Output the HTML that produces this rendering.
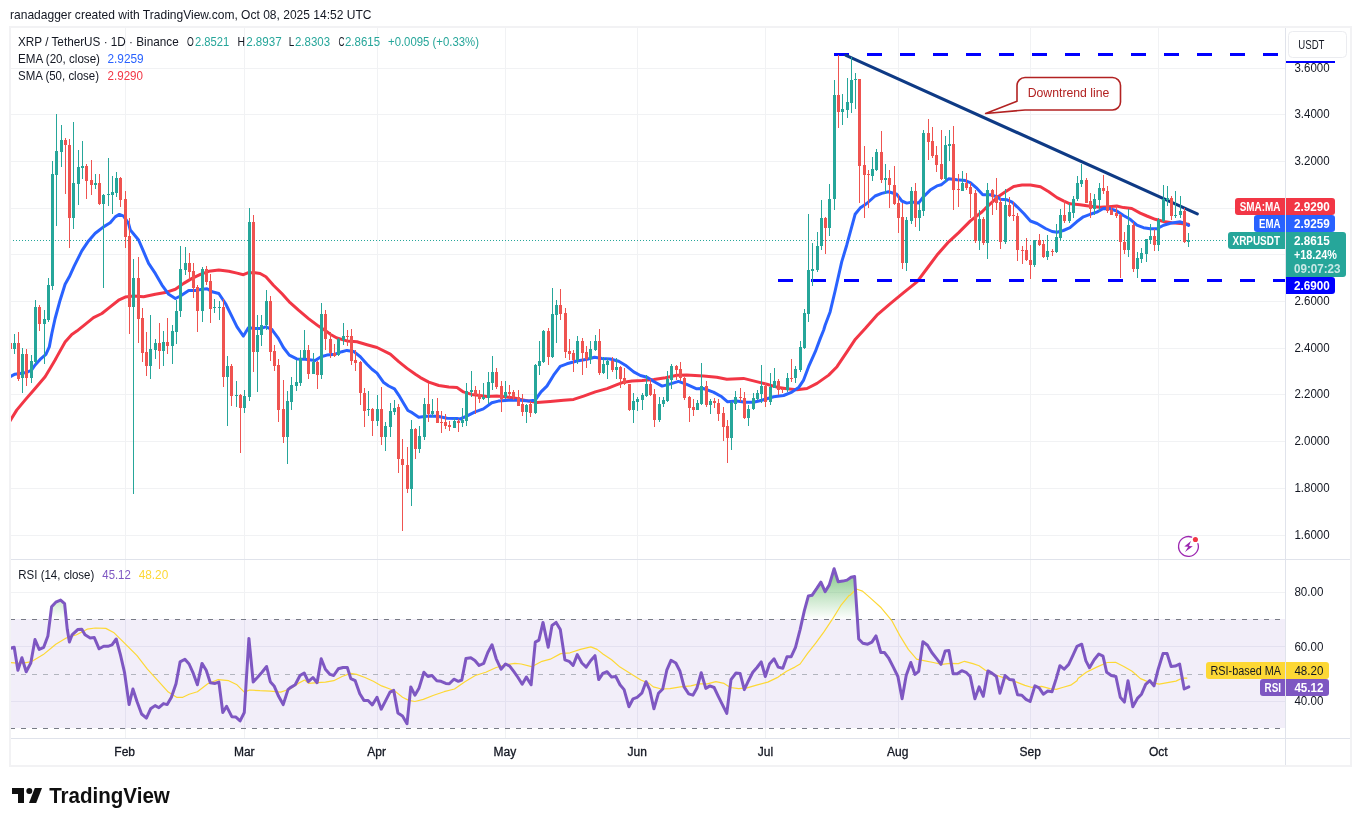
<!DOCTYPE html><html><head><meta charset="utf-8"><title>XRPUSDT</title><style>html,body{margin:0;padding:0;background:#fff;width:1361px;height:826px;overflow:hidden}</style></head><body><svg width="1361" height="826" viewBox="0 0 1361 826" style="position:absolute;left:0;top:0;will-change:transform;font-family:'Liberation Sans',sans-serif">
<rect width="1361" height="826" fill="#fff"/>
<g shape-rendering="crispEdges" stroke="#f1f2f4" stroke-width="1">
<line x1="125.5" y1="28" x2="125.5" y2="738"/>
<line x1="244.5" y1="28" x2="244.5" y2="738"/>
<line x1="377.5" y1="28" x2="377.5" y2="738"/>
<line x1="505.5" y1="28" x2="505.5" y2="738"/>
<line x1="637.5" y1="28" x2="637.5" y2="738"/>
<line x1="765.5" y1="28" x2="765.5" y2="738"/>
<line x1="898.5" y1="28" x2="898.5" y2="738"/>
<line x1="1030.5" y1="28" x2="1030.5" y2="738"/>
<line x1="1158.5" y1="28" x2="1158.5" y2="738"/>
<line x1="11" y1="68.5" x2="1285" y2="68.5"/>
<line x1="11" y1="114.5" x2="1285" y2="114.5"/>
<line x1="11" y1="161.5" x2="1285" y2="161.5"/>
<line x1="11" y1="208.5" x2="1285" y2="208.5"/>
<line x1="11" y1="254.5" x2="1285" y2="254.5"/>
<line x1="11" y1="301.5" x2="1285" y2="301.5"/>
<line x1="11" y1="348.5" x2="1285" y2="348.5"/>
<line x1="11" y1="394.5" x2="1285" y2="394.5"/>
<line x1="11" y1="441.5" x2="1285" y2="441.5"/>
<line x1="11" y1="488.5" x2="1285" y2="488.5"/>
<line x1="11" y1="535.5" x2="1285" y2="535.5"/>
<line x1="11" y1="592.5" x2="1285" y2="592.5"/>
<line x1="11" y1="646.5" x2="1285" y2="646.5"/>
<line x1="11" y1="701.5" x2="1285" y2="701.5"/>
</g>
<rect x="11" y="619.0" width="1274" height="109.0" fill="#7e57c2" fill-opacity="0.1"/>
<g shape-rendering="crispEdges" stroke="#e4e1f0" stroke-width="1">
<line x1="11" y1="646.5" x2="1285" y2="646.5"/>
<line x1="11" y1="701.5" x2="1285" y2="701.5"/>
<line x1="125.5" y1="619.5" x2="125.5" y2="728.5"/>
<line x1="244.5" y1="619.5" x2="244.5" y2="728.5"/>
<line x1="377.5" y1="619.5" x2="377.5" y2="728.5"/>
<line x1="505.5" y1="619.5" x2="505.5" y2="728.5"/>
<line x1="637.5" y1="619.5" x2="637.5" y2="728.5"/>
<line x1="765.5" y1="619.5" x2="765.5" y2="728.5"/>
<line x1="898.5" y1="619.5" x2="898.5" y2="728.5"/>
<line x1="1030.5" y1="619.5" x2="1030.5" y2="728.5"/>
<line x1="1158.5" y1="619.5" x2="1158.5" y2="728.5"/>
</g>
<g shape-rendering="crispEdges" stroke-width="1" fill="none">
<line x1="10" y1="619.5" x2="1284" y2="619.5" stroke="#787b86" stroke-dasharray="5 6"/>
<line x1="10" y1="728.5" x2="1284" y2="728.5" stroke="#787b86" stroke-dasharray="5 6"/>
<line x1="10" y1="674.5" x2="1284" y2="674.5" stroke="#b2b5be" stroke-dasharray="5 6"/>
</g>
<defs><linearGradient id="gg" x1="0" y1="0" x2="0" y2="1" gradientUnits="userSpaceOnUse" ><stop offset="0" stop-color="#4caf50" stop-opacity="0"/></linearGradient>
<linearGradient id="ob" gradientUnits="userSpaceOnUse" x1="0" y1="565" x2="0" y2="619.5"><stop offset="0" stop-color="#4caf50" stop-opacity="0.75"/><stop offset="1" stop-color="#4caf50" stop-opacity="0"/></linearGradient>
<clipPath id="mainclip"><rect x="11" y="28" width="1274" height="531"/></clipPath><clipPath id="rsiclip"><rect x="11" y="560" width="1274" height="178"/></clipPath>
<clipPath id="above70"><rect x="0" y="560" width="1285" height="59.5"/></clipPath></defs>
<polygon points="10.0,619.5 10.0,648.4 14.2,647.3 17.9,670.2 21.9,657.8 26.2,671.7 30.8,663.0 35.0,639.6 39.2,649.4 43.7,647.3 47.9,635.9 51.6,606.7 55.8,602.2 60.6,600.1 64.6,603.6 67.3,629.6 69.4,642.1 72.1,634.8 77.7,629.6 81.8,629.2 85.0,634.8 90.2,638.0 94.3,637.6 99.1,648.8 103.7,646.3 107.9,646.3 112.0,644.8 116.2,639.0 120.4,654.6 124.5,672.3 129.1,704.6 132.9,689.0 137.0,701.5 141.6,714.0 146.4,718.1 150.6,708.8 155.1,705.6 158.9,707.7 163.5,703.6 167.2,704.6 171.4,697.3 176.0,683.8 180.1,661.9 184.9,659.2 189.1,664.0 193.3,673.4 197.4,684.8 202.0,663.4 206.2,670.2 210.3,682.7 215.1,683.4 218.9,682.1 222.8,712.5 226.6,706.3 231.8,716.7 235.9,717.1 240.1,720.9 244.3,712.5 248.9,638.4 253.2,682.1 257.8,677.1 262.0,672.3 266.6,666.5 270.3,681.7 274.1,685.9 278.6,696.3 283.2,704.6 288.0,689.6 290.0,687.9 295.2,684.8 300.0,675.5 304.2,673.0 308.3,681.7 312.9,677.5 317.1,682.7 321.2,658.8 325.4,669.2 330.0,674.4 333.7,675.5 338.3,668.8 343.1,667.5 347.3,667.5 350.8,678.6 355.2,680.7 359.8,693.8 363.9,700.4 368.1,700.4 372.3,705.0 377.0,697.3 381.2,709.2 385.8,700.4 390.0,692.1 393.7,690.4 397.9,712.9 402.5,716.1 407.0,723.8 410.8,686.9 414.9,695.2 419.1,687.9 423.9,672.3 427.9,676.5 432.0,675.5 436.8,680.7 441.0,681.3 445.8,683.4 449.3,683.8 453.9,679.2 458.3,681.3 461.8,680.0 466.0,658.4 470.8,657.8 474.9,660.5 479.1,665.5 483.7,663.4 487.8,652.5 492.0,644.8 496.2,658.8 501.0,669.2 505.5,664.0 509.7,666.1 513.9,671.7 518.0,677.5 522.2,684.2 526.4,677.1 531.1,684.8 535.3,642.1 538.9,640.1 543.0,622.4 548.2,647.3 552.0,625.5 556.1,622.4 560.3,629.6 564.9,659.8 569.1,661.3 573.1,665.5 577.3,654.6 581.9,663.0 586.2,667.1 590.8,660.5 595.0,655.7 598.7,679.6 602.9,673.4 607.1,671.7 611.6,677.1 615.8,676.5 620.0,684.8 624.1,689.6 628.9,706.7 633.1,698.8 637.1,697.3 641.8,693.2 646.0,681.7 649.8,690.0 653.9,708.8 658.5,693.2 662.7,689.0 666.8,670.2 671.0,660.3 675.8,663.0 680.0,671.3 684.1,686.9 688.7,693.8 692.9,695.2 697.0,687.9 701.2,672.7 705.8,688.4 709.9,685.9 714.1,687.5 718.3,696.3 722.4,704.6 726.8,713.4 731.0,679.6 736.0,673.0 740.1,673.4 744.3,689.6 748.5,680.7 752.8,672.3 757.0,667.5 761.2,661.9 765.3,676.5 769.5,664.0 774.1,658.8 778.2,667.1 782.8,668.2 787.0,656.7 791.2,656.7 795.5,647.3 800.1,629.6 804.3,610.9 808.4,595.9 812.0,595.3 816.8,588.4 820.9,582.2 825.1,591.7 829.3,584.9 834.1,568.8 838.2,581.7 842.8,581.1 847.0,580.1 851.1,577.2 854.6,576.5 858.7,639.0 862.9,643.2 867.7,644.2 871.9,642.1 876.0,635.9 880.8,652.5 884.4,652.5 888.5,657.8 893.3,667.1 897.9,676.5 902.1,698.8 906.2,675.5 910.8,662.5 915.0,674.4 918.7,671.3 922.9,641.7 927.5,645.3 931.8,652.5 936.4,658.4 941.0,664.4 945.2,650.9 948.9,650.5 953.1,673.8 957.2,673.8 961.8,670.7 966.0,672.3 970.2,676.5 974.9,698.8 979.1,686.9 983.3,696.3 987.9,670.9 992.2,673.4 996.4,676.5 999.9,693.2 1005.1,675.5 1009.7,679.6 1013.5,680.0 1017.6,694.8 1021.8,695.2 1026.0,699.4 1030.1,701.5 1034.9,685.9 1039.1,687.9 1043.3,694.2 1047.8,691.1 1052.0,691.7 1056.2,678.6 1059.9,665.7 1064.1,669.2 1068.7,664.4 1072.8,655.7 1077.0,646.3 1081.7,644.2 1085.9,660.9 1089.5,667.7 1094.2,659.8 1098.8,654.0 1103.0,656.1 1106.7,672.3 1111.3,675.5 1115.9,676.5 1120.3,697.3 1124.4,702.1 1128.0,680.7 1132.8,706.7 1137.4,698.4 1141.5,694.2 1145.7,684.4 1149.8,680.7 1154.0,685.9 1158.2,669.2 1163.0,653.6 1167.1,653.6 1171.1,666.5 1175.3,666.1 1179.6,664.0 1184.2,689.0 1188.8,686.9 1188.8,619.5" fill="url(#ob)" clip-path="url(#above70)"/>
<line x1="13" y1="240.5" x2="1226" y2="240.5" stroke="#26a69a" stroke-width="1" stroke-dasharray="1 2" shape-rendering="crispEdges"/>
<polyline clip-path="url(#mainclip)" points="10.0,421.0 16.7,410.1 25.0,400.1 35.1,388.4 45.1,376.7 50.1,368.4 55.1,360.0 56.8,356.9 65.1,341.9 71.8,334.4 76.8,331.1 85.2,324.4 93.5,317.7 101.9,313.5 110.2,306.8 118.6,300.2 125.2,297.1 133.6,296.0 143.6,296.8 155.3,294.3 165.3,292.6 175.4,289.3 183.7,283.4 192.1,278.4 200.4,274.3 208.8,271.3 218.8,270.1 228.8,271.3 237.0,273.1 243.4,274.7 248.4,272.7 255.1,272.7 260.1,273.5 265.9,276.8 273.4,285.2 281.8,293.5 290.1,302.7 298.5,310.2 308.5,318.6 318.5,326.1 328.5,332.8 330.2,334.2 336.9,338.0 346.9,340.9 356.9,341.7 367.0,344.7 377.0,347.5 390.3,354.2 398.7,361.7 407.1,368.4 415.4,374.3 420.4,377.6 428.8,382.1 438.8,385.5 448.8,387.1 457.0,387.6 463.4,391.9 471.7,394.4 480.1,395.6 486.7,396.6 496.8,396.1 506.8,396.9 516.8,398.6 526.8,400.6 536.9,402.4 550.2,401.4 563.6,400.2 573.6,399.4 583.6,396.1 595.3,391.9 607.0,388.6 617.0,384.7 623.7,382.2 632.1,381.0 642.1,380.5 653.8,379.4 665.5,377.7 677.0,375.2 686.7,375.1 703.4,375.9 716.8,377.3 726.8,379.3 743.5,378.4 753.5,380.9 766.9,384.3 778.6,387.6 786.9,388.8 796.9,389.8 807.0,388.5 817.0,383.4 828.7,375.1 837.0,366.7 847.1,351.7 855.4,339.2 865.2,328.6 876.9,315.2 890.3,303.6 903.6,292.7 917.0,281.8 927.0,268.5 937.0,255.1 948.7,241.8 958.7,232.6 970.4,220.9 982.1,211.7 987.0,206.8 997.0,197.6 1005.4,191.8 1013.7,186.4 1022.1,185.1 1030.4,185.1 1040.5,186.8 1048.8,191.8 1057.0,197.6 1063.4,200.9 1070.0,203.8 1080.1,204.8 1090.1,206.3 1100.1,207.3 1108.5,206.8 1116.8,206.0 1123.5,207.6 1131.8,208.5 1140.2,213.1 1146.9,216.0 1155.2,219.3 1163.6,221.5 1171.9,222.7 1180.3,223.5 1188.6,224.3" fill="none" stroke="#f23645" stroke-width="3" stroke-linejoin="round" stroke-linecap="round"/>
<polyline clip-path="url(#mainclip)" points="10.0,376.7 15.0,374.2 20.0,373.4 26.7,372.5 31.7,370.0 35.1,365.0 40.1,359.4 45.9,354.4 49.3,346.9 51.8,333.6 55.1,318.5 60.1,300.2 65.1,284.3 69.3,276.8 74.3,265.9 81.8,250.9 88.5,240.9 95.2,233.3 96.9,232.0 103.5,226.9 110.2,222.8 115.2,216.9 119.4,214.4 123.6,216.1 128.6,223.6 130.3,230.0 138.6,240.0 143.6,251.7 148.6,263.4 155.3,273.4 162.0,285.1 168.7,294.3 175.4,298.5 180.4,296.0 188.7,290.5 195.4,290.5 202.1,289.3 207.1,288.8 212.1,291.8 218.8,293.5 225.5,303.5 232.1,316.9 237.0,326.9 243.4,336.1 248.4,327.8 255.1,328.6 260.1,328.6 265.9,326.9 271.8,329.4 273.4,331.7 278.4,338.4 283.4,347.5 289.3,355.1 296.8,358.9 305.2,359.2 315.2,360.4 321.0,356.7 326.9,355.1 335.2,354.2 341.9,351.7 346.9,350.4 353.6,351.4 360.3,356.7 367.0,364.2 372.0,369.3 377.0,373.1 383.7,382.6 388.7,386.0 394.5,388.8 398.7,395.1 403.7,403.5 407.9,410.5 412.1,412.7 418.7,417.2 424.6,416.4 430.4,416.0 438.8,416.5 447.1,418.2 457.0,418.5 460.0,419.0 466.7,416.1 475.1,411.9 483.4,408.9 491.8,402.8 498.4,401.1 508.5,400.2 520.2,400.2 528.5,401.1 535.2,400.2 541.0,391.9 546.9,386.1 553.6,375.2 560.2,366.3 566.9,363.8 576.9,361.0 587.0,359.3 594.5,357.3 602.0,358.5 610.3,359.0 618.7,361.3 625.4,365.2 633.7,371.9 640.4,375.5 647.1,377.2 653.8,381.5 662.1,386.1 668.8,384.4 677.0,381.9 678.4,381.4 686.7,384.3 696.7,388.8 703.4,388.5 713.4,392.1 721.8,396.8 727.6,401.8 736.8,401.0 745.2,402.2 753.5,402.2 761.9,400.2 773.6,396.8 783.6,395.5 791.9,392.1 798.6,387.6 803.6,380.1 808.6,366.7 815.3,351.7 820.3,338.4 823.7,330.0 825.1,325.3 830.1,311.9 835.1,291.0 841.7,261.9 846.7,245.2 851.7,226.9 855.1,214.3 860.1,208.1 866.7,203.5 875.1,196.0 881.8,193.4 888.5,191.8 896.8,194.3 901.8,201.0 906.8,203.1 911.8,202.1 918.5,203.1 923.5,196.8 930.2,190.1 936.9,185.9 941.1,184.8 948.6,178.8 956.9,179.8 965.3,180.6 970.3,182.6 977.0,188.4 982.8,194.8 990.3,194.8 997.0,196.8 1000.4,199.3 1007.1,199.8 1012.1,202.1 1017.1,206.8 1023.8,213.5 1030.4,221.0 1037.1,223.5 1045.5,228.5 1052.1,231.5 1057.0,232.2 1063.4,230.5 1070.0,227.7 1076.7,221.8 1083.4,216.8 1090.1,214.3 1096.8,212.1 1103.4,208.5 1110.1,208.8 1116.8,211.0 1123.5,215.5 1130.2,219.3 1136.9,225.2 1143.5,227.7 1150.2,228.8 1156.9,228.8 1163.6,225.2 1170.3,223.2 1176.9,222.2 1180.3,221.8 1185.3,223.5 1188.6,225.5" fill="none" stroke="#2962ff" stroke-width="3" stroke-linejoin="round" stroke-linecap="round"/>
<g stroke="#0000ff" stroke-width="3" shape-rendering="crispEdges">
<line x1="834" y1="54.5" x2="1279" y2="54.5" stroke-dasharray="15 18"/>
<line x1="778" y1="280.5" x2="1285" y2="280.5" stroke-dasharray="15 18"/>
</g>
<line x1="846" y1="55.4" x2="1197.3" y2="213.8" stroke="#0e3a85" stroke-width="3.1" stroke-linecap="round"/>
<g shape-rendering="crispEdges">
<rect x="9" y="340" width="1" height="12" fill="#ef5350"/>
<rect x="11" y="343" width="1" height="6" fill="#ef5350"/>
<rect x="14" y="334" width="1" height="20" fill="#26a69a"/>
<rect x="13" y="343" width="3" height="6" fill="#26a69a"/>
<rect x="18" y="332" width="1" height="49" fill="#ef5350"/>
<rect x="17" y="343" width="3" height="36" fill="#ef5350"/>
<rect x="22" y="348" width="1" height="45" fill="#26a69a"/>
<rect x="21" y="354" width="3" height="24" fill="#26a69a"/>
<rect x="26" y="349" width="1" height="37" fill="#ef5350"/>
<rect x="25" y="354" width="3" height="24" fill="#ef5350"/>
<rect x="31" y="355" width="1" height="28" fill="#26a69a"/>
<rect x="30" y="361" width="3" height="17" fill="#26a69a"/>
<rect x="35" y="300" width="1" height="64" fill="#26a69a"/>
<rect x="34" y="307" width="3" height="55" fill="#26a69a"/>
<rect x="39" y="305" width="1" height="26" fill="#ef5350"/>
<rect x="38" y="307" width="3" height="17" fill="#ef5350"/>
<rect x="44" y="310" width="1" height="54" fill="#26a69a"/>
<rect x="43" y="319" width="3" height="5" fill="#26a69a"/>
<rect x="48" y="278" width="1" height="44" fill="#26a69a"/>
<rect x="47" y="285" width="3" height="35" fill="#26a69a"/>
<rect x="52" y="161" width="1" height="129" fill="#26a69a"/>
<rect x="51" y="174" width="3" height="112" fill="#26a69a"/>
<rect x="56" y="114" width="1" height="112" fill="#26a69a"/>
<rect x="55" y="151" width="3" height="24" fill="#26a69a"/>
<rect x="61" y="125" width="1" height="42" fill="#26a69a"/>
<rect x="60" y="140" width="3" height="12" fill="#26a69a"/>
<rect x="65" y="138" width="1" height="56" fill="#ef5350"/>
<rect x="64" y="140" width="3" height="5" fill="#ef5350"/>
<rect x="69" y="139" width="1" height="109" fill="#ef5350"/>
<rect x="68" y="145" width="3" height="73" fill="#ef5350"/>
<rect x="73" y="122" width="1" height="107" fill="#26a69a"/>
<rect x="72" y="183" width="3" height="35" fill="#26a69a"/>
<rect x="78" y="150" width="1" height="55" fill="#26a69a"/>
<rect x="77" y="167" width="3" height="17" fill="#26a69a"/>
<rect x="82" y="141" width="1" height="38" fill="#26a69a"/>
<rect x="81" y="166" width="3" height="2" fill="#26a69a"/>
<rect x="86" y="164" width="1" height="35" fill="#ef5350"/>
<rect x="85" y="166" width="3" height="15" fill="#ef5350"/>
<rect x="91" y="160" width="1" height="35" fill="#ef5350"/>
<rect x="90" y="180" width="3" height="5" fill="#ef5350"/>
<rect x="95" y="174" width="1" height="15" fill="#26a69a"/>
<rect x="94" y="183" width="3" height="2" fill="#26a69a"/>
<rect x="99" y="174" width="1" height="31" fill="#ef5350"/>
<rect x="98" y="183" width="3" height="21" fill="#ef5350"/>
<rect x="103" y="194" width="1" height="94" fill="#26a69a"/>
<rect x="102" y="195" width="3" height="9" fill="#26a69a"/>
<rect x="108" y="158" width="1" height="48" fill="#26a69a"/>
<rect x="107" y="194" width="3" height="1" fill="#26a69a"/>
<rect x="112" y="176" width="1" height="38" fill="#26a69a"/>
<rect x="111" y="192" width="3" height="3" fill="#26a69a"/>
<rect x="116" y="172" width="1" height="25" fill="#26a69a"/>
<rect x="115" y="178" width="3" height="15" fill="#26a69a"/>
<rect x="120" y="177" width="1" height="30" fill="#ef5350"/>
<rect x="119" y="178" width="3" height="22" fill="#ef5350"/>
<rect x="125" y="191" width="1" height="57" fill="#ef5350"/>
<rect x="124" y="199" width="3" height="38" fill="#ef5350"/>
<rect x="129" y="218" width="1" height="116" fill="#ef5350"/>
<rect x="128" y="236" width="3" height="71" fill="#ef5350"/>
<rect x="133" y="259" width="1" height="235" fill="#26a69a"/>
<rect x="132" y="278" width="3" height="29" fill="#26a69a"/>
<rect x="138" y="257" width="1" height="86" fill="#ef5350"/>
<rect x="137" y="278" width="3" height="41" fill="#ef5350"/>
<rect x="142" y="308" width="1" height="54" fill="#ef5350"/>
<rect x="141" y="318" width="3" height="35" fill="#ef5350"/>
<rect x="146" y="332" width="1" height="44" fill="#ef5350"/>
<rect x="145" y="352" width="3" height="14" fill="#ef5350"/>
<rect x="150" y="315" width="1" height="64" fill="#26a69a"/>
<rect x="149" y="349" width="3" height="17" fill="#26a69a"/>
<rect x="155" y="339" width="1" height="20" fill="#26a69a"/>
<rect x="154" y="343" width="3" height="7" fill="#26a69a"/>
<rect x="159" y="323" width="1" height="46" fill="#ef5350"/>
<rect x="158" y="343" width="3" height="8" fill="#ef5350"/>
<rect x="163" y="331" width="1" height="35" fill="#26a69a"/>
<rect x="162" y="342" width="3" height="9" fill="#26a69a"/>
<rect x="167" y="318" width="1" height="36" fill="#ef5350"/>
<rect x="166" y="342" width="3" height="4" fill="#ef5350"/>
<rect x="172" y="325" width="1" height="39" fill="#26a69a"/>
<rect x="171" y="331" width="3" height="15" fill="#26a69a"/>
<rect x="176" y="300" width="1" height="44" fill="#26a69a"/>
<rect x="175" y="311" width="3" height="21" fill="#26a69a"/>
<rect x="180" y="246" width="1" height="71" fill="#26a69a"/>
<rect x="179" y="269" width="3" height="42" fill="#26a69a"/>
<rect x="185" y="247" width="1" height="28" fill="#26a69a"/>
<rect x="184" y="263" width="3" height="7" fill="#26a69a"/>
<rect x="189" y="253" width="1" height="27" fill="#ef5350"/>
<rect x="188" y="263" width="3" height="9" fill="#ef5350"/>
<rect x="193" y="263" width="1" height="35" fill="#ef5350"/>
<rect x="192" y="271" width="3" height="17" fill="#ef5350"/>
<rect x="197" y="285" width="1" height="47" fill="#ef5350"/>
<rect x="196" y="287" width="3" height="24" fill="#ef5350"/>
<rect x="202" y="267" width="1" height="55" fill="#26a69a"/>
<rect x="201" y="269" width="3" height="42" fill="#26a69a"/>
<rect x="206" y="266" width="1" height="19" fill="#ef5350"/>
<rect x="205" y="269" width="3" height="13" fill="#ef5350"/>
<rect x="210" y="274" width="1" height="49" fill="#ef5350"/>
<rect x="209" y="281" width="3" height="28" fill="#ef5350"/>
<rect x="214" y="299" width="1" height="14" fill="#26a69a"/>
<rect x="213" y="307" width="3" height="1" fill="#26a69a"/>
<rect x="219" y="301" width="1" height="19" fill="#26a69a"/>
<rect x="218" y="307" width="3" height="1" fill="#26a69a"/>
<rect x="223" y="299" width="1" height="88" fill="#ef5350"/>
<rect x="222" y="307" width="3" height="70" fill="#ef5350"/>
<rect x="227" y="356" width="1" height="70" fill="#26a69a"/>
<rect x="226" y="366" width="3" height="11" fill="#26a69a"/>
<rect x="231" y="364" width="1" height="42" fill="#ef5350"/>
<rect x="230" y="366" width="3" height="30" fill="#ef5350"/>
<rect x="236" y="381" width="1" height="26" fill="#26a69a"/>
<rect x="235" y="395" width="3" height="1" fill="#26a69a"/>
<rect x="240" y="394" width="1" height="59" fill="#ef5350"/>
<rect x="239" y="395" width="3" height="13" fill="#ef5350"/>
<rect x="244" y="390" width="1" height="23" fill="#26a69a"/>
<rect x="243" y="396" width="3" height="12" fill="#26a69a"/>
<rect x="249" y="208" width="1" height="193" fill="#26a69a"/>
<rect x="248" y="222" width="3" height="175" fill="#26a69a"/>
<rect x="253" y="215" width="1" height="157" fill="#ef5350"/>
<rect x="252" y="222" width="3" height="130" fill="#ef5350"/>
<rect x="257" y="315" width="1" height="77" fill="#26a69a"/>
<rect x="256" y="335" width="3" height="17" fill="#26a69a"/>
<rect x="261" y="315" width="1" height="31" fill="#26a69a"/>
<rect x="260" y="325" width="3" height="10" fill="#26a69a"/>
<rect x="266" y="290" width="1" height="40" fill="#26a69a"/>
<rect x="265" y="301" width="3" height="24" fill="#26a69a"/>
<rect x="270" y="296" width="1" height="65" fill="#ef5350"/>
<rect x="269" y="301" width="3" height="51" fill="#ef5350"/>
<rect x="274" y="345" width="1" height="26" fill="#ef5350"/>
<rect x="273" y="351" width="3" height="15" fill="#ef5350"/>
<rect x="278" y="359" width="1" height="63" fill="#ef5350"/>
<rect x="277" y="365" width="3" height="45" fill="#ef5350"/>
<rect x="283" y="380" width="1" height="63" fill="#ef5350"/>
<rect x="282" y="409" width="3" height="28" fill="#ef5350"/>
<rect x="287" y="391" width="1" height="73" fill="#26a69a"/>
<rect x="286" y="401" width="3" height="36" fill="#26a69a"/>
<rect x="291" y="377" width="1" height="33" fill="#26a69a"/>
<rect x="290" y="385" width="3" height="17" fill="#26a69a"/>
<rect x="296" y="360" width="1" height="31" fill="#26a69a"/>
<rect x="295" y="382" width="3" height="4" fill="#26a69a"/>
<rect x="300" y="350" width="1" height="36" fill="#26a69a"/>
<rect x="299" y="358" width="3" height="25" fill="#26a69a"/>
<rect x="304" y="330" width="1" height="29" fill="#26a69a"/>
<rect x="303" y="350" width="3" height="8" fill="#26a69a"/>
<rect x="308" y="345" width="1" height="34" fill="#ef5350"/>
<rect x="307" y="350" width="3" height="24" fill="#ef5350"/>
<rect x="313" y="353" width="1" height="21" fill="#26a69a"/>
<rect x="312" y="362" width="3" height="12" fill="#26a69a"/>
<rect x="317" y="361" width="1" height="28" fill="#ef5350"/>
<rect x="316" y="362" width="3" height="13" fill="#ef5350"/>
<rect x="321" y="303" width="1" height="76" fill="#26a69a"/>
<rect x="320" y="314" width="3" height="61" fill="#26a69a"/>
<rect x="325" y="310" width="1" height="40" fill="#ef5350"/>
<rect x="324" y="314" width="3" height="25" fill="#ef5350"/>
<rect x="330" y="332" width="1" height="26" fill="#ef5350"/>
<rect x="329" y="339" width="3" height="14" fill="#ef5350"/>
<rect x="334" y="344" width="1" height="13" fill="#ef5350"/>
<rect x="333" y="353" width="3" height="3" fill="#ef5350"/>
<rect x="338" y="338" width="1" height="18" fill="#26a69a"/>
<rect x="337" y="339" width="3" height="16" fill="#26a69a"/>
<rect x="343" y="323" width="1" height="22" fill="#26a69a"/>
<rect x="342" y="336" width="3" height="4" fill="#26a69a"/>
<rect x="347" y="330" width="1" height="16" fill="#ef5350"/>
<rect x="346" y="336" width="3" height="1" fill="#ef5350"/>
<rect x="351" y="329" width="1" height="36" fill="#ef5350"/>
<rect x="350" y="336" width="3" height="25" fill="#ef5350"/>
<rect x="355" y="350" width="1" height="21" fill="#ef5350"/>
<rect x="354" y="360" width="3" height="3" fill="#ef5350"/>
<rect x="360" y="361" width="1" height="44" fill="#ef5350"/>
<rect x="359" y="362" width="3" height="31" fill="#ef5350"/>
<rect x="364" y="388" width="1" height="39" fill="#ef5350"/>
<rect x="363" y="393" width="3" height="18" fill="#ef5350"/>
<rect x="368" y="391" width="1" height="25" fill="#26a69a"/>
<rect x="367" y="409" width="3" height="1" fill="#26a69a"/>
<rect x="372" y="408" width="1" height="28" fill="#ef5350"/>
<rect x="371" y="409" width="3" height="12" fill="#ef5350"/>
<rect x="377" y="395" width="1" height="31" fill="#26a69a"/>
<rect x="376" y="409" width="3" height="12" fill="#26a69a"/>
<rect x="381" y="387" width="1" height="58" fill="#ef5350"/>
<rect x="380" y="409" width="3" height="28" fill="#ef5350"/>
<rect x="385" y="422" width="1" height="29" fill="#26a69a"/>
<rect x="384" y="426" width="3" height="11" fill="#26a69a"/>
<rect x="390" y="403" width="1" height="34" fill="#26a69a"/>
<rect x="389" y="411" width="3" height="16" fill="#26a69a"/>
<rect x="394" y="400" width="1" height="15" fill="#26a69a"/>
<rect x="393" y="408" width="3" height="4" fill="#26a69a"/>
<rect x="398" y="404" width="1" height="69" fill="#ef5350"/>
<rect x="397" y="407" width="3" height="52" fill="#ef5350"/>
<rect x="402" y="439" width="1" height="92" fill="#ef5350"/>
<rect x="401" y="459" width="3" height="6" fill="#ef5350"/>
<rect x="407" y="447" width="1" height="46" fill="#ef5350"/>
<rect x="406" y="465" width="3" height="24" fill="#ef5350"/>
<rect x="411" y="420" width="1" height="86" fill="#26a69a"/>
<rect x="410" y="429" width="3" height="60" fill="#26a69a"/>
<rect x="415" y="428" width="1" height="31" fill="#ef5350"/>
<rect x="414" y="429" width="3" height="20" fill="#ef5350"/>
<rect x="419" y="426" width="1" height="27" fill="#26a69a"/>
<rect x="418" y="436" width="3" height="13" fill="#26a69a"/>
<rect x="424" y="398" width="1" height="42" fill="#26a69a"/>
<rect x="423" y="404" width="3" height="33" fill="#26a69a"/>
<rect x="428" y="383" width="1" height="39" fill="#ef5350"/>
<rect x="427" y="404" width="3" height="10" fill="#ef5350"/>
<rect x="432" y="399" width="1" height="18" fill="#26a69a"/>
<rect x="431" y="411" width="3" height="3" fill="#26a69a"/>
<rect x="437" y="398" width="1" height="25" fill="#ef5350"/>
<rect x="436" y="411" width="3" height="12" fill="#ef5350"/>
<rect x="441" y="411" width="1" height="22" fill="#ef5350"/>
<rect x="440" y="422" width="3" height="1" fill="#ef5350"/>
<rect x="445" y="414" width="1" height="15" fill="#ef5350"/>
<rect x="444" y="422" width="3" height="4" fill="#ef5350"/>
<rect x="449" y="421" width="1" height="10" fill="#ef5350"/>
<rect x="448" y="425" width="3" height="2" fill="#ef5350"/>
<rect x="454" y="418" width="1" height="10" fill="#26a69a"/>
<rect x="453" y="421" width="3" height="7" fill="#26a69a"/>
<rect x="458" y="419" width="1" height="13" fill="#ef5350"/>
<rect x="457" y="421" width="3" height="2" fill="#ef5350"/>
<rect x="462" y="408" width="1" height="19" fill="#26a69a"/>
<rect x="461" y="420" width="3" height="3" fill="#26a69a"/>
<rect x="466" y="383" width="1" height="43" fill="#26a69a"/>
<rect x="465" y="391" width="3" height="30" fill="#26a69a"/>
<rect x="471" y="371" width="1" height="26" fill="#26a69a"/>
<rect x="470" y="390" width="3" height="2" fill="#26a69a"/>
<rect x="475" y="386" width="1" height="28" fill="#ef5350"/>
<rect x="474" y="390" width="3" height="5" fill="#ef5350"/>
<rect x="479" y="390" width="1" height="13" fill="#ef5350"/>
<rect x="478" y="394" width="3" height="5" fill="#ef5350"/>
<rect x="483" y="383" width="1" height="17" fill="#26a69a"/>
<rect x="482" y="397" width="3" height="2" fill="#26a69a"/>
<rect x="488" y="372" width="1" height="32" fill="#26a69a"/>
<rect x="487" y="382" width="3" height="16" fill="#26a69a"/>
<rect x="492" y="356" width="1" height="34" fill="#26a69a"/>
<rect x="491" y="372" width="3" height="11" fill="#26a69a"/>
<rect x="496" y="368" width="1" height="21" fill="#ef5350"/>
<rect x="495" y="372" width="3" height="15" fill="#ef5350"/>
<rect x="501" y="381" width="1" height="31" fill="#ef5350"/>
<rect x="500" y="386" width="3" height="13" fill="#ef5350"/>
<rect x="505" y="381" width="1" height="18" fill="#26a69a"/>
<rect x="504" y="392" width="3" height="5" fill="#26a69a"/>
<rect x="509" y="385" width="1" height="14" fill="#ef5350"/>
<rect x="508" y="392" width="3" height="2" fill="#ef5350"/>
<rect x="513" y="390" width="1" height="10" fill="#ef5350"/>
<rect x="512" y="392" width="3" height="5" fill="#ef5350"/>
<rect x="518" y="390" width="1" height="16" fill="#ef5350"/>
<rect x="517" y="397" width="3" height="9" fill="#ef5350"/>
<rect x="522" y="394" width="1" height="22" fill="#ef5350"/>
<rect x="521" y="404" width="3" height="8" fill="#ef5350"/>
<rect x="526" y="404" width="1" height="19" fill="#26a69a"/>
<rect x="525" y="405" width="3" height="7" fill="#26a69a"/>
<rect x="530" y="401" width="1" height="16" fill="#ef5350"/>
<rect x="529" y="404" width="3" height="9" fill="#ef5350"/>
<rect x="535" y="364" width="1" height="50" fill="#26a69a"/>
<rect x="534" y="365" width="3" height="48" fill="#26a69a"/>
<rect x="539" y="341" width="1" height="34" fill="#26a69a"/>
<rect x="538" y="361" width="3" height="5" fill="#26a69a"/>
<rect x="543" y="330" width="1" height="33" fill="#26a69a"/>
<rect x="542" y="331" width="3" height="31" fill="#26a69a"/>
<rect x="548" y="328" width="1" height="37" fill="#ef5350"/>
<rect x="547" y="331" width="3" height="26" fill="#ef5350"/>
<rect x="552" y="288" width="1" height="70" fill="#26a69a"/>
<rect x="551" y="314" width="3" height="43" fill="#26a69a"/>
<rect x="556" y="300" width="1" height="43" fill="#26a69a"/>
<rect x="555" y="305" width="3" height="10" fill="#26a69a"/>
<rect x="560" y="289" width="1" height="31" fill="#ef5350"/>
<rect x="559" y="305" width="3" height="9" fill="#ef5350"/>
<rect x="565" y="308" width="1" height="50" fill="#ef5350"/>
<rect x="564" y="313" width="3" height="39" fill="#ef5350"/>
<rect x="569" y="339" width="1" height="21" fill="#ef5350"/>
<rect x="568" y="351" width="3" height="3" fill="#ef5350"/>
<rect x="573" y="350" width="1" height="22" fill="#ef5350"/>
<rect x="572" y="353" width="3" height="7" fill="#ef5350"/>
<rect x="577" y="336" width="1" height="28" fill="#26a69a"/>
<rect x="576" y="341" width="3" height="19" fill="#26a69a"/>
<rect x="582" y="338" width="1" height="37" fill="#ef5350"/>
<rect x="581" y="341" width="3" height="12" fill="#ef5350"/>
<rect x="586" y="346" width="1" height="22" fill="#ef5350"/>
<rect x="585" y="352" width="3" height="7" fill="#ef5350"/>
<rect x="590" y="341" width="1" height="23" fill="#26a69a"/>
<rect x="589" y="349" width="3" height="10" fill="#26a69a"/>
<rect x="595" y="335" width="1" height="16" fill="#26a69a"/>
<rect x="594" y="341" width="3" height="9" fill="#26a69a"/>
<rect x="599" y="329" width="1" height="46" fill="#ef5350"/>
<rect x="598" y="341" width="3" height="32" fill="#ef5350"/>
<rect x="603" y="357" width="1" height="17" fill="#26a69a"/>
<rect x="602" y="364" width="3" height="9" fill="#26a69a"/>
<rect x="607" y="358" width="1" height="21" fill="#26a69a"/>
<rect x="606" y="361" width="3" height="4" fill="#26a69a"/>
<rect x="612" y="357" width="1" height="15" fill="#ef5350"/>
<rect x="611" y="361" width="3" height="9" fill="#ef5350"/>
<rect x="616" y="358" width="1" height="21" fill="#26a69a"/>
<rect x="615" y="367" width="3" height="3" fill="#26a69a"/>
<rect x="620" y="366" width="1" height="22" fill="#ef5350"/>
<rect x="619" y="367" width="3" height="12" fill="#ef5350"/>
<rect x="624" y="368" width="1" height="17" fill="#ef5350"/>
<rect x="623" y="378" width="3" height="6" fill="#ef5350"/>
<rect x="629" y="384" width="1" height="27" fill="#ef5350"/>
<rect x="628" y="384" width="3" height="26" fill="#ef5350"/>
<rect x="633" y="393" width="1" height="30" fill="#26a69a"/>
<rect x="632" y="401" width="3" height="9" fill="#26a69a"/>
<rect x="637" y="397" width="1" height="14" fill="#26a69a"/>
<rect x="636" y="399" width="3" height="3" fill="#26a69a"/>
<rect x="642" y="393" width="1" height="17" fill="#26a69a"/>
<rect x="641" y="395" width="3" height="5" fill="#26a69a"/>
<rect x="646" y="375" width="1" height="22" fill="#26a69a"/>
<rect x="645" y="384" width="3" height="12" fill="#26a69a"/>
<rect x="650" y="379" width="1" height="17" fill="#ef5350"/>
<rect x="649" y="384" width="3" height="11" fill="#ef5350"/>
<rect x="654" y="389" width="1" height="38" fill="#ef5350"/>
<rect x="653" y="394" width="3" height="26" fill="#ef5350"/>
<rect x="659" y="397" width="1" height="25" fill="#26a69a"/>
<rect x="658" y="404" width="3" height="16" fill="#26a69a"/>
<rect x="663" y="397" width="1" height="10" fill="#26a69a"/>
<rect x="662" y="400" width="3" height="4" fill="#26a69a"/>
<rect x="667" y="371" width="1" height="31" fill="#26a69a"/>
<rect x="666" y="379" width="3" height="22" fill="#26a69a"/>
<rect x="671" y="364" width="1" height="25" fill="#26a69a"/>
<rect x="670" y="366" width="3" height="14" fill="#26a69a"/>
<rect x="676" y="365" width="1" height="15" fill="#ef5350"/>
<rect x="675" y="366" width="3" height="4" fill="#ef5350"/>
<rect x="680" y="362" width="1" height="19" fill="#ef5350"/>
<rect x="679" y="369" width="3" height="9" fill="#ef5350"/>
<rect x="684" y="377" width="1" height="23" fill="#ef5350"/>
<rect x="683" y="378" width="3" height="20" fill="#ef5350"/>
<rect x="689" y="396" width="1" height="26" fill="#ef5350"/>
<rect x="688" y="397" width="3" height="11" fill="#ef5350"/>
<rect x="693" y="399" width="1" height="17" fill="#ef5350"/>
<rect x="692" y="407" width="3" height="3" fill="#ef5350"/>
<rect x="697" y="400" width="1" height="10" fill="#26a69a"/>
<rect x="696" y="403" width="3" height="7" fill="#26a69a"/>
<rect x="701" y="363" width="1" height="42" fill="#26a69a"/>
<rect x="700" y="386" width="3" height="18" fill="#26a69a"/>
<rect x="706" y="381" width="1" height="26" fill="#ef5350"/>
<rect x="705" y="386" width="3" height="19" fill="#ef5350"/>
<rect x="710" y="399" width="1" height="15" fill="#26a69a"/>
<rect x="709" y="401" width="3" height="4" fill="#26a69a"/>
<rect x="714" y="398" width="1" height="10" fill="#ef5350"/>
<rect x="713" y="401" width="3" height="2" fill="#ef5350"/>
<rect x="718" y="399" width="1" height="22" fill="#ef5350"/>
<rect x="717" y="403" width="3" height="11" fill="#ef5350"/>
<rect x="723" y="407" width="1" height="34" fill="#ef5350"/>
<rect x="722" y="413" width="3" height="14" fill="#ef5350"/>
<rect x="727" y="420" width="1" height="43" fill="#ef5350"/>
<rect x="726" y="426" width="3" height="12" fill="#ef5350"/>
<rect x="731" y="401" width="1" height="49" fill="#26a69a"/>
<rect x="730" y="403" width="3" height="35" fill="#26a69a"/>
<rect x="735" y="391" width="1" height="19" fill="#26a69a"/>
<rect x="734" y="397" width="3" height="7" fill="#26a69a"/>
<rect x="740" y="388" width="1" height="14" fill="#ef5350"/>
<rect x="739" y="397" width="3" height="1" fill="#ef5350"/>
<rect x="744" y="392" width="1" height="27" fill="#ef5350"/>
<rect x="743" y="398" width="3" height="20" fill="#ef5350"/>
<rect x="748" y="405" width="1" height="21" fill="#26a69a"/>
<rect x="747" y="409" width="3" height="9" fill="#26a69a"/>
<rect x="753" y="393" width="1" height="17" fill="#26a69a"/>
<rect x="752" y="398" width="3" height="11" fill="#26a69a"/>
<rect x="757" y="390" width="1" height="10" fill="#26a69a"/>
<rect x="756" y="393" width="3" height="6" fill="#26a69a"/>
<rect x="761" y="365" width="1" height="38" fill="#26a69a"/>
<rect x="760" y="386" width="3" height="8" fill="#26a69a"/>
<rect x="765" y="383" width="1" height="24" fill="#ef5350"/>
<rect x="764" y="386" width="3" height="16" fill="#ef5350"/>
<rect x="770" y="373" width="1" height="32" fill="#26a69a"/>
<rect x="769" y="387" width="3" height="15" fill="#26a69a"/>
<rect x="774" y="368" width="1" height="20" fill="#26a69a"/>
<rect x="773" y="381" width="3" height="7" fill="#26a69a"/>
<rect x="778" y="379" width="1" height="16" fill="#ef5350"/>
<rect x="777" y="381" width="3" height="9" fill="#ef5350"/>
<rect x="782" y="388" width="1" height="5" fill="#ef5350"/>
<rect x="781" y="389" width="3" height="1" fill="#ef5350"/>
<rect x="787" y="373" width="1" height="19" fill="#26a69a"/>
<rect x="786" y="378" width="3" height="12" fill="#26a69a"/>
<rect x="791" y="359" width="1" height="23" fill="#ef5350"/>
<rect x="790" y="378" width="3" height="1" fill="#ef5350"/>
<rect x="795" y="366" width="1" height="17" fill="#26a69a"/>
<rect x="794" y="369" width="3" height="9" fill="#26a69a"/>
<rect x="800" y="341" width="1" height="31" fill="#26a69a"/>
<rect x="799" y="347" width="3" height="23" fill="#26a69a"/>
<rect x="804" y="309" width="1" height="40" fill="#26a69a"/>
<rect x="803" y="313" width="3" height="35" fill="#26a69a"/>
<rect x="808" y="214" width="1" height="108" fill="#26a69a"/>
<rect x="807" y="270" width="3" height="44" fill="#26a69a"/>
<rect x="812" y="243" width="1" height="43" fill="#26a69a"/>
<rect x="811" y="269" width="3" height="2" fill="#26a69a"/>
<rect x="817" y="232" width="1" height="40" fill="#26a69a"/>
<rect x="816" y="246" width="3" height="24" fill="#26a69a"/>
<rect x="821" y="200" width="1" height="50" fill="#26a69a"/>
<rect x="820" y="218" width="3" height="28" fill="#26a69a"/>
<rect x="825" y="217" width="1" height="37" fill="#ef5350"/>
<rect x="824" y="218" width="3" height="10" fill="#ef5350"/>
<rect x="829" y="184" width="1" height="52" fill="#26a69a"/>
<rect x="828" y="199" width="3" height="29" fill="#26a69a"/>
<rect x="834" y="80" width="1" height="130" fill="#26a69a"/>
<rect x="833" y="95" width="3" height="104" fill="#26a69a"/>
<rect x="838" y="55" width="1" height="73" fill="#ef5350"/>
<rect x="837" y="95" width="3" height="17" fill="#ef5350"/>
<rect x="842" y="94" width="1" height="31" fill="#26a69a"/>
<rect x="841" y="109" width="3" height="3" fill="#26a69a"/>
<rect x="847" y="78" width="1" height="40" fill="#26a69a"/>
<rect x="846" y="102" width="3" height="8" fill="#26a69a"/>
<rect x="851" y="57" width="1" height="56" fill="#26a69a"/>
<rect x="850" y="80" width="3" height="23" fill="#26a69a"/>
<rect x="855" y="73" width="1" height="36" fill="#26a69a"/>
<rect x="854" y="79" width="3" height="1" fill="#26a69a"/>
<rect x="859" y="79" width="1" height="124" fill="#ef5350"/>
<rect x="858" y="79" width="3" height="87" fill="#ef5350"/>
<rect x="864" y="146" width="1" height="72" fill="#ef5350"/>
<rect x="863" y="165" width="3" height="10" fill="#ef5350"/>
<rect x="868" y="170" width="1" height="38" fill="#ef5350"/>
<rect x="867" y="174" width="3" height="1" fill="#ef5350"/>
<rect x="872" y="157" width="1" height="24" fill="#26a69a"/>
<rect x="871" y="169" width="3" height="7" fill="#26a69a"/>
<rect x="876" y="149" width="1" height="22" fill="#26a69a"/>
<rect x="875" y="152" width="3" height="18" fill="#26a69a"/>
<rect x="881" y="131" width="1" height="52" fill="#ef5350"/>
<rect x="880" y="152" width="3" height="28" fill="#ef5350"/>
<rect x="885" y="164" width="1" height="30" fill="#26a69a"/>
<rect x="884" y="178" width="3" height="2" fill="#26a69a"/>
<rect x="889" y="170" width="1" height="38" fill="#ef5350"/>
<rect x="888" y="178" width="3" height="7" fill="#ef5350"/>
<rect x="894" y="166" width="1" height="39" fill="#ef5350"/>
<rect x="893" y="185" width="3" height="19" fill="#ef5350"/>
<rect x="898" y="194" width="1" height="39" fill="#ef5350"/>
<rect x="897" y="203" width="3" height="15" fill="#ef5350"/>
<rect x="902" y="203" width="1" height="66" fill="#ef5350"/>
<rect x="901" y="217" width="3" height="46" fill="#ef5350"/>
<rect x="906" y="217" width="1" height="54" fill="#26a69a"/>
<rect x="905" y="220" width="3" height="43" fill="#26a69a"/>
<rect x="911" y="187" width="1" height="37" fill="#26a69a"/>
<rect x="910" y="191" width="3" height="30" fill="#26a69a"/>
<rect x="915" y="183" width="1" height="44" fill="#ef5350"/>
<rect x="914" y="191" width="3" height="27" fill="#ef5350"/>
<rect x="919" y="204" width="1" height="27" fill="#26a69a"/>
<rect x="918" y="210" width="3" height="8" fill="#26a69a"/>
<rect x="923" y="130" width="1" height="86" fill="#26a69a"/>
<rect x="922" y="133" width="3" height="78" fill="#26a69a"/>
<rect x="928" y="119" width="1" height="41" fill="#ef5350"/>
<rect x="927" y="133" width="3" height="9" fill="#ef5350"/>
<rect x="932" y="127" width="1" height="31" fill="#ef5350"/>
<rect x="931" y="141" width="3" height="15" fill="#ef5350"/>
<rect x="936" y="146" width="1" height="26" fill="#ef5350"/>
<rect x="935" y="155" width="3" height="10" fill="#ef5350"/>
<rect x="941" y="130" width="1" height="50" fill="#ef5350"/>
<rect x="940" y="164" width="3" height="15" fill="#ef5350"/>
<rect x="945" y="136" width="1" height="46" fill="#26a69a"/>
<rect x="944" y="145" width="3" height="34" fill="#26a69a"/>
<rect x="949" y="130" width="1" height="31" fill="#26a69a"/>
<rect x="948" y="144" width="3" height="2" fill="#26a69a"/>
<rect x="953" y="126" width="1" height="84" fill="#ef5350"/>
<rect x="952" y="144" width="3" height="46" fill="#ef5350"/>
<rect x="958" y="174" width="1" height="33" fill="#ef5350"/>
<rect x="957" y="189" width="3" height="1" fill="#ef5350"/>
<rect x="962" y="171" width="1" height="20" fill="#26a69a"/>
<rect x="961" y="183" width="3" height="8" fill="#26a69a"/>
<rect x="966" y="173" width="1" height="17" fill="#ef5350"/>
<rect x="965" y="183" width="3" height="5" fill="#ef5350"/>
<rect x="970" y="183" width="1" height="35" fill="#ef5350"/>
<rect x="969" y="187" width="3" height="7" fill="#ef5350"/>
<rect x="975" y="190" width="1" height="53" fill="#ef5350"/>
<rect x="974" y="193" width="3" height="48" fill="#ef5350"/>
<rect x="979" y="210" width="1" height="40" fill="#26a69a"/>
<rect x="978" y="219" width="3" height="22" fill="#26a69a"/>
<rect x="983" y="217" width="1" height="28" fill="#ef5350"/>
<rect x="982" y="219" width="3" height="24" fill="#ef5350"/>
<rect x="987" y="183" width="1" height="76" fill="#26a69a"/>
<rect x="986" y="190" width="3" height="53" fill="#26a69a"/>
<rect x="992" y="189" width="1" height="26" fill="#ef5350"/>
<rect x="991" y="190" width="3" height="7" fill="#ef5350"/>
<rect x="996" y="178" width="1" height="32" fill="#ef5350"/>
<rect x="995" y="196" width="3" height="7" fill="#ef5350"/>
<rect x="1000" y="198" width="1" height="51" fill="#ef5350"/>
<rect x="999" y="202" width="3" height="40" fill="#ef5350"/>
<rect x="1005" y="189" width="1" height="55" fill="#26a69a"/>
<rect x="1004" y="205" width="3" height="37" fill="#26a69a"/>
<rect x="1009" y="197" width="1" height="20" fill="#ef5350"/>
<rect x="1008" y="205" width="3" height="11" fill="#ef5350"/>
<rect x="1013" y="202" width="1" height="19" fill="#ef5350"/>
<rect x="1012" y="215" width="3" height="1" fill="#ef5350"/>
<rect x="1017" y="213" width="1" height="48" fill="#ef5350"/>
<rect x="1016" y="216" width="3" height="34" fill="#ef5350"/>
<rect x="1022" y="246" width="1" height="18" fill="#ef5350"/>
<rect x="1021" y="250" width="3" height="1" fill="#ef5350"/>
<rect x="1026" y="238" width="1" height="23" fill="#ef5350"/>
<rect x="1025" y="250" width="3" height="10" fill="#ef5350"/>
<rect x="1030" y="245" width="1" height="34" fill="#ef5350"/>
<rect x="1029" y="260" width="3" height="5" fill="#ef5350"/>
<rect x="1034" y="240" width="1" height="27" fill="#26a69a"/>
<rect x="1033" y="240" width="3" height="25" fill="#26a69a"/>
<rect x="1039" y="234" width="1" height="12" fill="#ef5350"/>
<rect x="1038" y="240" width="3" height="5" fill="#ef5350"/>
<rect x="1043" y="240" width="1" height="18" fill="#ef5350"/>
<rect x="1042" y="244" width="3" height="13" fill="#ef5350"/>
<rect x="1047" y="235" width="1" height="25" fill="#26a69a"/>
<rect x="1046" y="251" width="3" height="6" fill="#26a69a"/>
<rect x="1052" y="249" width="1" height="7" fill="#ef5350"/>
<rect x="1051" y="251" width="3" height="1" fill="#ef5350"/>
<rect x="1056" y="224" width="1" height="29" fill="#26a69a"/>
<rect x="1055" y="237" width="3" height="15" fill="#26a69a"/>
<rect x="1060" y="209" width="1" height="31" fill="#26a69a"/>
<rect x="1059" y="215" width="3" height="23" fill="#26a69a"/>
<rect x="1064" y="200" width="1" height="23" fill="#ef5350"/>
<rect x="1063" y="215" width="3" height="6" fill="#ef5350"/>
<rect x="1069" y="203" width="1" height="20" fill="#26a69a"/>
<rect x="1068" y="212" width="3" height="9" fill="#26a69a"/>
<rect x="1073" y="196" width="1" height="22" fill="#26a69a"/>
<rect x="1072" y="199" width="3" height="14" fill="#26a69a"/>
<rect x="1077" y="176" width="1" height="25" fill="#26a69a"/>
<rect x="1076" y="183" width="3" height="16" fill="#26a69a"/>
<rect x="1081" y="164" width="1" height="23" fill="#26a69a"/>
<rect x="1080" y="180" width="3" height="4" fill="#26a69a"/>
<rect x="1086" y="178" width="1" height="25" fill="#ef5350"/>
<rect x="1085" y="180" width="3" height="23" fill="#ef5350"/>
<rect x="1090" y="193" width="1" height="25" fill="#ef5350"/>
<rect x="1089" y="201" width="3" height="8" fill="#ef5350"/>
<rect x="1094" y="194" width="1" height="21" fill="#26a69a"/>
<rect x="1093" y="199" width="3" height="10" fill="#26a69a"/>
<rect x="1099" y="183" width="1" height="28" fill="#26a69a"/>
<rect x="1098" y="188" width="3" height="12" fill="#26a69a"/>
<rect x="1103" y="175" width="1" height="19" fill="#ef5350"/>
<rect x="1102" y="188" width="3" height="3" fill="#ef5350"/>
<rect x="1107" y="186" width="1" height="27" fill="#ef5350"/>
<rect x="1106" y="191" width="3" height="20" fill="#ef5350"/>
<rect x="1111" y="207" width="1" height="8" fill="#ef5350"/>
<rect x="1110" y="210" width="3" height="5" fill="#ef5350"/>
<rect x="1116" y="206" width="1" height="12" fill="#ef5350"/>
<rect x="1115" y="213" width="3" height="3" fill="#ef5350"/>
<rect x="1120" y="214" width="1" height="64" fill="#ef5350"/>
<rect x="1119" y="215" width="3" height="27" fill="#ef5350"/>
<rect x="1124" y="232" width="1" height="22" fill="#ef5350"/>
<rect x="1123" y="242" width="3" height="8" fill="#ef5350"/>
<rect x="1128" y="209" width="1" height="48" fill="#26a69a"/>
<rect x="1127" y="225" width="3" height="25" fill="#26a69a"/>
<rect x="1133" y="222" width="1" height="50" fill="#ef5350"/>
<rect x="1132" y="225" width="3" height="44" fill="#ef5350"/>
<rect x="1137" y="252" width="1" height="26" fill="#26a69a"/>
<rect x="1136" y="258" width="3" height="11" fill="#26a69a"/>
<rect x="1141" y="248" width="1" height="15" fill="#26a69a"/>
<rect x="1140" y="253" width="3" height="6" fill="#26a69a"/>
<rect x="1146" y="239" width="1" height="23" fill="#26a69a"/>
<rect x="1145" y="239" width="3" height="15" fill="#26a69a"/>
<rect x="1150" y="224" width="1" height="20" fill="#26a69a"/>
<rect x="1149" y="236" width="3" height="4" fill="#26a69a"/>
<rect x="1154" y="229" width="1" height="22" fill="#ef5350"/>
<rect x="1153" y="236" width="3" height="9" fill="#ef5350"/>
<rect x="1158" y="218" width="1" height="33" fill="#26a69a"/>
<rect x="1157" y="220" width="3" height="25" fill="#26a69a"/>
<rect x="1163" y="185" width="1" height="37" fill="#26a69a"/>
<rect x="1162" y="199" width="3" height="22" fill="#26a69a"/>
<rect x="1167" y="186" width="1" height="20" fill="#26a69a"/>
<rect x="1166" y="198" width="3" height="2" fill="#26a69a"/>
<rect x="1171" y="196" width="1" height="24" fill="#ef5350"/>
<rect x="1170" y="198" width="3" height="18" fill="#ef5350"/>
<rect x="1175" y="191" width="1" height="27" fill="#26a69a"/>
<rect x="1174" y="215" width="3" height="1" fill="#26a69a"/>
<rect x="1180" y="196" width="1" height="22" fill="#26a69a"/>
<rect x="1179" y="211" width="3" height="4" fill="#26a69a"/>
<rect x="1184" y="208" width="1" height="35" fill="#ef5350"/>
<rect x="1183" y="211" width="3" height="31" fill="#ef5350"/>
<rect x="1188" y="233" width="1" height="14" fill="#26a69a"/>
<rect x="1187" y="240" width="3" height="2" fill="#26a69a"/>
</g>
<path d="M1025,77.5 H1112.5 a8,8 0 0 1 8,8 V102 a8,8 0 0 1 -8,8 H1025 L985.6,113.5 L1017,101.2 V85.5 a8,8 0 0 1 8,-8 Z" fill="#fff" stroke="#b22222" stroke-width="1.6" stroke-linejoin="round"/>
<text x="1027.7" y="97" font-size="12" fill="#b22222" textLength="81.7" lengthAdjust="spacingAndGlyphs">Downtrend line</text>
<polyline clip-path="url(#rsiclip)" points="10.0,662.5 20.4,663.4 30.8,661.9 43.3,654.6 55.8,644.2 66.2,638.0 76.6,634.8 87.1,629.2 95.4,628.0 105.8,628.4 114.1,632.8 124.5,643.2 137.0,655.7 147.4,669.2 157.9,680.7 168.3,692.1 176.6,697.3 182.8,697.3 189.1,694.2 197.4,691.7 207.8,683.8 218.2,679.6 228.7,680.7 237.0,684.8 244.3,692.1 249.5,690.0 259.9,690.7 270.3,691.1 280.7,692.1 287.0,690.0 290.0,689.0 298.3,683.4 304.6,680.0 308.7,683.4 317.1,682.7 325.4,682.1 333.7,680.7 342.1,676.5 350.4,673.4 356.6,674.4 365.0,677.5 373.3,681.3 381.6,685.9 390.0,689.0 396.2,692.1 402.5,697.3 408.7,700.4 414.9,701.5 423.3,699.4 433.7,695.2 444.1,691.7 454.5,689.0 464.9,681.7 475.3,675.5 485.8,672.3 496.2,667.5 506.6,664.6 514.9,663.4 521.2,664.0 531.6,666.7 542.0,661.3 550.3,659.2 560.7,653.6 570.1,652.8 580.4,649.4 590.8,646.9 597.1,649.4 603.3,654.2 611.6,659.8 620.0,667.1 630.4,673.4 640.8,680.0 649.1,683.4 653.3,686.9 661.6,689.0 670.0,688.6 680.4,686.9 690.8,685.9 699.1,683.8 707.4,683.8 715.8,681.7 724.1,683.4 730.3,687.5 738.7,688.6 747.0,687.9 757.4,684.8 767.8,682.1 778.2,677.1 786.6,671.3 794.9,667.1 800.1,664.0 807.4,653.6 815.7,643.2 824.1,631.7 832.4,619.2 840.7,605.7 849.1,595.3 850.0,595.3 856.2,589.0 862.5,591.1 870.8,598.4 881.2,607.8 891.6,620.3 900.0,635.9 908.3,649.4 916.6,659.2 925.0,660.9 933.3,662.5 941.6,664.4 950.0,663.4 958.3,663.6 964.5,661.3 972.9,663.6 979.1,665.7 985.4,670.2 995.8,675.0 1006.2,678.6 1016.6,682.1 1024.9,685.4 1031.2,687.3 1041.6,686.3 1049.9,688.6 1056.2,689.4 1062.4,687.5 1070.7,685.2 1077.0,680.7 1078.0,678.6 1086.3,672.3 1096.7,667.1 1107.2,662.5 1115.5,662.3 1123.8,666.5 1132.1,671.3 1140.5,678.6 1148.8,682.1 1159.2,684.2 1167.5,682.7 1175.9,681.1 1182.1,678.2 1187.3,678.2" fill="none" stroke="#fdd835" stroke-width="1.2" stroke-linejoin="round"/>
<polyline clip-path="url(#rsiclip)" points="10.0,648.4 14.2,647.3 17.9,670.2 21.9,657.8 26.2,671.7 30.8,663.0 35.0,639.6 39.2,649.4 43.7,647.3 47.9,635.9 51.6,606.7 55.8,602.2 60.6,600.1 64.6,603.6 67.3,629.6 69.4,642.1 72.1,634.8 77.7,629.6 81.8,629.2 85.0,634.8 90.2,638.0 94.3,637.6 99.1,648.8 103.7,646.3 107.9,646.3 112.0,644.8 116.2,639.0 120.4,654.6 124.5,672.3 129.1,704.6 132.9,689.0 137.0,701.5 141.6,714.0 146.4,718.1 150.6,708.8 155.1,705.6 158.9,707.7 163.5,703.6 167.2,704.6 171.4,697.3 176.0,683.8 180.1,661.9 184.9,659.2 189.1,664.0 193.3,673.4 197.4,684.8 202.0,663.4 206.2,670.2 210.3,682.7 215.1,683.4 218.9,682.1 222.8,712.5 226.6,706.3 231.8,716.7 235.9,717.1 240.1,720.9 244.3,712.5 248.9,638.4 253.2,682.1 257.8,677.1 262.0,672.3 266.6,666.5 270.3,681.7 274.1,685.9 278.6,696.3 283.2,704.6 288.0,689.6 290.0,687.9 295.2,684.8 300.0,675.5 304.2,673.0 308.3,681.7 312.9,677.5 317.1,682.7 321.2,658.8 325.4,669.2 330.0,674.4 333.7,675.5 338.3,668.8 343.1,667.5 347.3,667.5 350.8,678.6 355.2,680.7 359.8,693.8 363.9,700.4 368.1,700.4 372.3,705.0 377.0,697.3 381.2,709.2 385.8,700.4 390.0,692.1 393.7,690.4 397.9,712.9 402.5,716.1 407.0,723.8 410.8,686.9 414.9,695.2 419.1,687.9 423.9,672.3 427.9,676.5 432.0,675.5 436.8,680.7 441.0,681.3 445.8,683.4 449.3,683.8 453.9,679.2 458.3,681.3 461.8,680.0 466.0,658.4 470.8,657.8 474.9,660.5 479.1,665.5 483.7,663.4 487.8,652.5 492.0,644.8 496.2,658.8 501.0,669.2 505.5,664.0 509.7,666.1 513.9,671.7 518.0,677.5 522.2,684.2 526.4,677.1 531.1,684.8 535.3,642.1 538.9,640.1 543.0,622.4 548.2,647.3 552.0,625.5 556.1,622.4 560.3,629.6 564.9,659.8 569.1,661.3 573.1,665.5 577.3,654.6 581.9,663.0 586.2,667.1 590.8,660.5 595.0,655.7 598.7,679.6 602.9,673.4 607.1,671.7 611.6,677.1 615.8,676.5 620.0,684.8 624.1,689.6 628.9,706.7 633.1,698.8 637.1,697.3 641.8,693.2 646.0,681.7 649.8,690.0 653.9,708.8 658.5,693.2 662.7,689.0 666.8,670.2 671.0,660.3 675.8,663.0 680.0,671.3 684.1,686.9 688.7,693.8 692.9,695.2 697.0,687.9 701.2,672.7 705.8,688.4 709.9,685.9 714.1,687.5 718.3,696.3 722.4,704.6 726.8,713.4 731.0,679.6 736.0,673.0 740.1,673.4 744.3,689.6 748.5,680.7 752.8,672.3 757.0,667.5 761.2,661.9 765.3,676.5 769.5,664.0 774.1,658.8 778.2,667.1 782.8,668.2 787.0,656.7 791.2,656.7 795.5,647.3 800.1,629.6 804.3,610.9 808.4,595.9 812.0,595.3 816.8,588.4 820.9,582.2 825.1,591.7 829.3,584.9 834.1,568.8 838.2,581.7 842.8,581.1 847.0,580.1 851.1,577.2 854.6,576.5 858.7,639.0 862.9,643.2 867.7,644.2 871.9,642.1 876.0,635.9 880.8,652.5 884.4,652.5 888.5,657.8 893.3,667.1 897.9,676.5 902.1,698.8 906.2,675.5 910.8,662.5 915.0,674.4 918.7,671.3 922.9,641.7 927.5,645.3 931.8,652.5 936.4,658.4 941.0,664.4 945.2,650.9 948.9,650.5 953.1,673.8 957.2,673.8 961.8,670.7 966.0,672.3 970.2,676.5 974.9,698.8 979.1,686.9 983.3,696.3 987.9,670.9 992.2,673.4 996.4,676.5 999.9,693.2 1005.1,675.5 1009.7,679.6 1013.5,680.0 1017.6,694.8 1021.8,695.2 1026.0,699.4 1030.1,701.5 1034.9,685.9 1039.1,687.9 1043.3,694.2 1047.8,691.1 1052.0,691.7 1056.2,678.6 1059.9,665.7 1064.1,669.2 1068.7,664.4 1072.8,655.7 1077.0,646.3 1081.7,644.2 1085.9,660.9 1089.5,667.7 1094.2,659.8 1098.8,654.0 1103.0,656.1 1106.7,672.3 1111.3,675.5 1115.9,676.5 1120.3,697.3 1124.4,702.1 1128.0,680.7 1132.8,706.7 1137.4,698.4 1141.5,694.2 1145.7,684.4 1149.8,680.7 1154.0,685.9 1158.2,669.2 1163.0,653.6 1167.1,653.6 1171.1,666.5 1175.3,666.1 1179.6,664.0 1184.2,689.0 1188.8,686.9" fill="none" stroke="#7e57c2" stroke-width="3" stroke-linejoin="round" stroke-linecap="round"/>
<path d="M1191.68,537.10 A9.9,9.9 0 1 0 1197.93,543.57" fill="none" stroke="#9c27b0" stroke-width="1.3" stroke-linecap="round"/>
<path d="M1190.98,541.0 L1184.3,546.6 L1188.2,546.8 L1185.0,551.9 L1192.8,546.2 L1189.0,545.9 Z" fill="#9c27b0"/>
<circle cx="1195.43" cy="539.5" r="2.55" fill="#f23645"/>
<g shape-rendering="crispEdges" fill="none" stroke="#e0e3eb" stroke-width="1">
<line x1="1285.5" y1="28" x2="1285.5" y2="765"/>
<line x1="11" y1="559.5" x2="1350" y2="559.5"/>
<line x1="11" y1="738.5" x2="1350" y2="738.5"/>
<rect x="10" y="27" width="1341" height="739" stroke="#f2f2f4" stroke-width="2"/>
</g>
<text x="1294.4" y="72.0" font-size="12" fill="#131722" textLength="35.2" lengthAdjust="spacingAndGlyphs">3.6000</text>
<text x="1294.4" y="118.0" font-size="12" fill="#131722" textLength="35.2" lengthAdjust="spacingAndGlyphs">3.4000</text>
<text x="1294.4" y="165.0" font-size="12" fill="#131722" textLength="35.2" lengthAdjust="spacingAndGlyphs">3.2000</text>
<text x="1294.4" y="212.0" font-size="12" fill="#131722" textLength="35.2" lengthAdjust="spacingAndGlyphs">3.0000</text>
<text x="1294.4" y="258.0" font-size="12" fill="#131722" textLength="35.2" lengthAdjust="spacingAndGlyphs">2.8000</text>
<text x="1294.4" y="305.0" font-size="12" fill="#131722" textLength="35.2" lengthAdjust="spacingAndGlyphs">2.6000</text>
<text x="1294.4" y="352.0" font-size="12" fill="#131722" textLength="35.2" lengthAdjust="spacingAndGlyphs">2.4000</text>
<text x="1294.4" y="398.0" font-size="12" fill="#131722" textLength="35.2" lengthAdjust="spacingAndGlyphs">2.2000</text>
<text x="1294.4" y="445.0" font-size="12" fill="#131722" textLength="35.2" lengthAdjust="spacingAndGlyphs">2.0000</text>
<text x="1294.4" y="492.0" font-size="12" fill="#131722" textLength="35.2" lengthAdjust="spacingAndGlyphs">1.8000</text>
<text x="1294.4" y="539.0" font-size="12" fill="#131722" textLength="35.2" lengthAdjust="spacingAndGlyphs">1.6000</text>
<text x="1294.4" y="596.0" font-size="12" fill="#131722" textLength="29.0" lengthAdjust="spacingAndGlyphs">80.00</text>
<text x="1294.4" y="651.0" font-size="12" fill="#131722" textLength="29.0" lengthAdjust="spacingAndGlyphs">60.00</text>
<text x="1294.4" y="705.0" font-size="12" fill="#131722" textLength="29.0" lengthAdjust="spacingAndGlyphs">40.00</text>
<text x="124.7" y="756" font-size="12" fill="#131722" stroke="#131722" stroke-width="0.3" text-anchor="middle">Feb</text>
<text x="244.3" y="756" font-size="12" fill="#131722" stroke="#131722" stroke-width="0.3" text-anchor="middle">Mar</text>
<text x="376.7" y="756" font-size="12" fill="#131722" stroke="#131722" stroke-width="0.3" text-anchor="middle">Apr</text>
<text x="504.9" y="756" font-size="12" fill="#131722" stroke="#131722" stroke-width="0.3" text-anchor="middle">May</text>
<text x="637.3" y="756" font-size="12" fill="#131722" stroke="#131722" stroke-width="0.3" text-anchor="middle">Jun</text>
<text x="765.4" y="756" font-size="12" fill="#131722" stroke="#131722" stroke-width="0.3" text-anchor="middle">Jul</text>
<text x="897.8" y="756" font-size="12" fill="#131722" stroke="#131722" stroke-width="0.3" text-anchor="middle">Aug</text>
<text x="1030.2" y="756" font-size="12" fill="#131722" stroke="#131722" stroke-width="0.3" text-anchor="middle">Sep</text>
<text x="1158.3" y="756" font-size="12" fill="#131722" stroke="#131722" stroke-width="0.3" text-anchor="middle">Oct</text>
<rect x="1288.5" y="31.5" width="58" height="26" rx="4" fill="#fff" stroke="#ebecf0"/>
<text x="1298.3" y="49.0" font-size="12" fill="#131722" textLength="26.2" lengthAdjust="spacingAndGlyphs">USDT</text>
<rect x="1286" y="61" width="49" height="2" fill="#0000ff"/>
<path d="M1238,198 H1285 V215 H1238 a3,3 0 0 1 -3,-3 V201 a3,3 0 0 1 3,-3 Z" fill="#f23645"/>
<text x="1239.7" y="210.8" font-size="12" fill="#fff" textLength="40.7" lengthAdjust="spacingAndGlyphs" font-weight="bold">SMA:MA</text>
<path d="M1286,198 H1332 a3,3 0 0 1 3,3 V212 a3,3 0 0 1 -3,3 H1286 Z" fill="#f23645"/>
<text x="1294.0" y="210.8" font-size="12" fill="#fff" textLength="35.8" lengthAdjust="spacingAndGlyphs" font-weight="bold">2.9290</text>
<path d="M1257,215 H1285 V232 H1257 a3,3 0 0 1 -3,-3 V218 a3,3 0 0 1 3,-3 Z" fill="#2962ff"/>
<text x="1259.0" y="227.8" font-size="12" fill="#fff" textLength="21.5" lengthAdjust="spacingAndGlyphs" font-weight="bold">EMA</text>
<path d="M1286,215 H1332 a3,3 0 0 1 3,3 V229 a3,3 0 0 1 -3,3 H1286 Z" fill="#2962ff"/>
<text x="1294.0" y="227.8" font-size="12" fill="#fff" textLength="35.8" lengthAdjust="spacingAndGlyphs" font-weight="bold">2.9259</text>
<path d="M1231,232 H1285 V249 H1231 a3,3 0 0 1 -3,-3 V235 a3,3 0 0 1 3,-3 Z" fill="#26a69a"/>
<text x="1232.5" y="244.8" font-size="12" fill="#fff" textLength="47.5" lengthAdjust="spacingAndGlyphs" font-weight="bold">XRPUSDT</text>
<path d="M1286,232 H1343 a3,3 0 0 1 3,3 V274 a3,3 0 0 1 -3,3 H1286 Z" fill="#26a69a"/>
<text x="1294.0" y="244.8" font-size="12" fill="#fff" textLength="35.8" lengthAdjust="spacingAndGlyphs" font-weight="bold">2.8615</text>
<text x="1294.0" y="258.9" font-size="12" fill="#fff" textLength="43.0" lengthAdjust="spacingAndGlyphs" font-weight="bold">+18.24%</text>
<text x="1294.0" y="272.7" font-size="12" fill="#c9e9e6" textLength="46.5" lengthAdjust="spacingAndGlyphs" font-weight="bold">09:07:23</text>
<path d="M1286,277 H1332 a3,3 0 0 1 3,3 V291 a3,3 0 0 1 -3,3 H1286 Z" fill="#0000ff"/>
<text x="1294.0" y="289.8" font-size="12" fill="#fff" textLength="35.8" lengthAdjust="spacingAndGlyphs" font-weight="bold">2.6900</text>
<path d="M1209,662 H1285 V679 H1209 a3,3 0 0 1 -3,-3 V665 a3,3 0 0 1 3,-3 Z" fill="#fdd835"/>
<text x="1210.5" y="674.8" font-size="12" fill="#131722" textLength="70.5" lengthAdjust="spacingAndGlyphs" font-weight="normal">RSI-based MA</text>
<path d="M1286,662 H1326 a3,3 0 0 1 3,3 V676 a3,3 0 0 1 -3,3 H1286 Z" fill="#fdd835"/>
<text x="1294.4" y="674.8" font-size="12" fill="#131722" textLength="29.0" lengthAdjust="spacingAndGlyphs" font-weight="normal">48.20</text>
<path d="M1263,679 H1285 V696 H1263 a3,3 0 0 1 -3,-3 V682 a3,3 0 0 1 3,-3 Z" fill="#7e57c2"/>
<text x="1264.5" y="691.8" font-size="12" fill="#fff" textLength="16.5" lengthAdjust="spacingAndGlyphs" font-weight="bold">RSI</text>
<path d="M1286,679 H1326 a3,3 0 0 1 3,3 V693 a3,3 0 0 1 -3,3 H1286 Z" fill="#7e57c2"/>
<text x="1294.4" y="691.8" font-size="12" fill="#fff" textLength="29.0" lengthAdjust="spacingAndGlyphs" font-weight="bold">45.12</text>
<text x="10.0" y="19.0" font-size="13" fill="#131722" textLength="361.5" lengthAdjust="spacingAndGlyphs">ranadagger created with TradingView.com, Oct 08, 2025 14:52 UTC</text>
<text x="18.0" y="46.0" font-size="13" fill="#131722" textLength="160.7" lengthAdjust="spacingAndGlyphs">XRP / TetherUS · 1D · Binance</text>
<text x="187.0" y="46.0" font-size="13" fill="#131722" textLength="6.8" lengthAdjust="spacingAndGlyphs">O</text>
<text x="195.0" y="46.0" font-size="13" fill="#26a69a" textLength="34.3" lengthAdjust="spacingAndGlyphs">2.8521</text>
<text x="237.5" y="46.0" font-size="13" fill="#131722" textLength="7.5" lengthAdjust="spacingAndGlyphs">H</text>
<text x="246.2" y="46.0" font-size="13" fill="#26a69a" textLength="35.5" lengthAdjust="spacingAndGlyphs">2.8937</text>
<text x="288.7" y="46.0" font-size="13" fill="#131722" textLength="5.5" lengthAdjust="spacingAndGlyphs">L</text>
<text x="295.0" y="46.0" font-size="13" fill="#26a69a" textLength="35.0" lengthAdjust="spacingAndGlyphs">2.8303</text>
<text x="338.5" y="46.0" font-size="13" fill="#131722" textLength="6.0" lengthAdjust="spacingAndGlyphs">C</text>
<text x="345.0" y="46.0" font-size="13" fill="#26a69a" textLength="35.0" lengthAdjust="spacingAndGlyphs">2.8615</text>
<text x="388.0" y="46.0" font-size="13" fill="#26a69a" textLength="91.0" lengthAdjust="spacingAndGlyphs">+0.0095 (+0.33%)</text>
<text x="18.0" y="63.0" font-size="13" fill="#131722" textLength="82.0" lengthAdjust="spacingAndGlyphs">EMA (20, close)</text>
<text x="107.5" y="63.0" font-size="13" fill="#2962ff" textLength="36.2" lengthAdjust="spacingAndGlyphs">2.9259</text>
<text x="18.0" y="80.0" font-size="13" fill="#131722" textLength="81.0" lengthAdjust="spacingAndGlyphs">SMA (50, close)</text>
<text x="107.5" y="80.0" font-size="13" fill="#f23645" textLength="35.5" lengthAdjust="spacingAndGlyphs">2.9290</text>
<text x="18.3" y="579.3" font-size="13" fill="#131722" textLength="76.0" lengthAdjust="spacingAndGlyphs">RSI (14, close)</text>
<text x="102.3" y="579.3" font-size="13" fill="#7e57c2" textLength="28.5" lengthAdjust="spacingAndGlyphs">45.12</text>
<text x="138.7" y="579.3" font-size="13" fill="#fdd835" textLength="29.6" lengthAdjust="spacingAndGlyphs">48.20</text>
<g fill="#0f0f0f"><path d="M12,788 H24 V803 H18 V794 H12 Z"/><circle cx="29.3" cy="791" r="3"/><path d="M34.8,788 H42 L36.2,803 H29 Z"/></g>
<text x="49.2" y="803.0" font-size="22" fill="#0f0f0f" textLength="120.6" lengthAdjust="spacingAndGlyphs" font-weight="bold">TradingView</text>
</svg></body></html>
